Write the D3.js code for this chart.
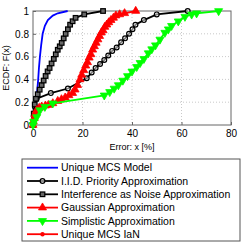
<!DOCTYPE html>
<html>
<head>
<meta charset="utf-8">
<script src="https://cdn.jsdelivr.net/npm/d3@7"></script>
<style>
body { margin: 0; background: #fff; }
svg { display: block; font-family: "Liberation Sans", Arial, sans-serif; }
</style>
</head>
<body>
<svg id="chart" width="249" height="243"></svg>
<script>
// error values (x, %) and ECDF values
var mcsX = [0, 0.5, 1, 1.7, 2.1, 2.4, 2.8, 3.3, 3.9, 4.8, 6, 8, 10, 14];
var mcsF = [0, 0.1, 0.2, 0.3, 0.4, 0.5, 0.6, 0.7, 0.8, 0.87, 0.92, 0.96, 0.98, 1];

var iidX = [0, 0.3, 0.8, 1.5, 7.2, 14.1, 21.7, 23.7, 25.3, 27.1, 28.8, 30.4, 32, 33.8, 35.6, 37.2, 38.8, 40.2, 41.4, 44.8, 50, 62.5];
var iidF = [0, 0.08, 0.16, 0.23, 0.28, 0.32, 0.41, 0.46, 0.5, 0.535, 0.57, 0.61, 0.65, 0.68, 0.725, 0.76, 0.8, 0.84, 0.88, 0.92, 0.97, 1];

var ianX = [0, 0.3, 0.7, 1.2, 1.9, 2.7, 3.5, 4.3, 5.1, 5.9, 6.7, 7.5, 8.4, 9.2, 10, 10.8, 11.6, 12.4, 13.2, 14.1, 15, 16, 17.2, 20.7, 28.3];
var ianF = [0, 0.1, 0.18, 0.23, 0.27, 0.31, 0.35, 0.39, 0.43, 0.47, 0.5, 0.54, 0.58, 0.62, 0.66, 0.69, 0.72, 0.76, 0.8, 0.84, 0.88, 0.91, 0.94, 0.97, 1];

var gaussX = [0, 0.1, 0.5, 0.8, 1.2, 1.5, 2.5, 3.5, 5, 6.2, 8, 10, 11.5, 13, 14.5, 16, 17, 18, 19, 19.7, 20.5, 21.3, 22, 22.7, 23.4, 24.1, 24.8, 25.5, 26.2, 26.9, 27.6, 28.3, 29, 29.8, 30.6, 31.5, 32.5, 33.5, 35, 37, 41.5];
var gaussF = [0, 0.03, 0.06, 0.09, 0.11, 0.13, 0.15, 0.16, 0.17, 0.175, 0.19, 0.21, 0.225, 0.24, 0.26, 0.28, 0.31, 0.35, 0.4, 0.44, 0.48, 0.52, 0.55, 0.59, 0.62, 0.66, 0.69, 0.72, 0.75, 0.78, 0.81, 0.83, 0.86, 0.88, 0.9, 0.92, 0.94, 0.96, 0.97, 0.98, 1];

var simpX = [0, 0.3, 1.5, 2.8, 4.8, 8, 28.8, 31, 32.8, 34.5, 36.3, 38.2, 40, 41.9, 43.3, 44.8, 46.6, 48, 49.5, 51.3, 53.3, 54.7, 56, 58.7, 61.4, 64.1, 66.1, 75];
var simpF = [0, 0.03, 0.07, 0.13, 0.16, 0.19, 0.26, 0.29, 0.32, 0.35, 0.39, 0.43, 0.47, 0.51, 0.545, 0.58, 0.63, 0.665, 0.7, 0.75, 0.81, 0.84, 0.87, 0.91, 0.95, 0.97, 0.98, 1];

// not visible in the plot, only in the legend
var uniqIanX = [];
var uniqIanF = [];

var xTicks = [0, 20, 40, 60, 80];
var yTicks = [0, 0.2, 0.4, 0.6, 0.8, 1];

var series = [
	{name: "Unique MCS Model", xs: mcsX, ys: mcsF, color: "#0000ff", marker: "none"},
	{name: "I.I.D. Priority Approximation", xs: iidX, ys: iidF, color: "#000000", marker: "circle"},
	{name: "Interference as Noise Approximation", xs: ianX, ys: ianF, color: "#000000", marker: "square"},
	{name: "Gaussian Approximation", xs: gaussX, ys: gaussF, color: "#ff0000", marker: "triUp"},
	{name: "Simplistic Approximation", xs: simpX, ys: simpF, color: "#00ff00", marker: "triDown"},
	{name: "Unique MCS IaN", xs: uniqIanX, ys: uniqIanF, color: "#ff0000", marker: "dot"}
];

var svg = d3.select("#chart");
var plotL = 33, plotR = 231, plotT = 11, plotB = 125;

var x = d3.scaleLinear().domain([0, 80]).range([plotL, plotR]);
var y = d3.scaleLinear().domain([0, 1]).range([plotB, plotT]);

// grid
var grid = svg.append("g");
grid.selectAll(".gx").data(xTicks.slice(1, -1)).enter().append("line")
	.attr("x1", function(d) { return x(d); }).attr("x2", function(d) { return x(d); })
	.attr("y1", plotT).attr("y2", plotB)
	.attr("stroke", "#bbb").attr("stroke-width", 0.8).attr("stroke-dasharray", "1,2");
grid.selectAll(".gy").data(yTicks.slice(1, -1)).enter().append("line")
	.attr("y1", function(d) { return y(d); }).attr("y2", function(d) { return y(d); })
	.attr("x1", plotL).attr("x2", plotR)
	.attr("stroke", "#bbb").attr("stroke-width", 0.8).attr("stroke-dasharray", "1,2");

// axes box
svg.append("rect").attr("x", plotL).attr("y", plotT)
	.attr("width", plotR - plotL).attr("height", plotB - plotT)
	.attr("fill", "none").attr("stroke", "#666").attr("stroke-width", 1);

var xax = svg.append("g").attr("transform", "translate(0," + plotB + ")")
	.call(d3.axisBottom(x).tickValues(xTicks).tickSize(-3).tickPadding(5).tickFormat(d3.format("d")));
var yax = svg.append("g").attr("transform", "translate(" + plotL + ",0)")
	.call(d3.axisLeft(y).tickValues(yTicks).tickSize(-3).tickPadding(4).tickFormat(function(d) { return d === 0 || d === 1 ? d : d3.format(".1f")(d); }));
[xax, yax].forEach(function(ax) {
	ax.select(".domain").remove();
	ax.selectAll(".tick line").attr("stroke", "#666");
	ax.selectAll("text").attr("font-size", "10px").attr("fill", "#000")
		.attr("font-family", "Liberation Sans, Arial, sans-serif");
});

svg.append("text").attr("x", (plotL + plotR) / 2).attr("y", 150)
	.attr("text-anchor", "middle").attr("font-size", "9px").text("Error: x [%]");
svg.append("text").attr("transform", "translate(8.5," + ((plotT + plotB) / 2) + ") rotate(-90)")
	.attr("text-anchor", "middle").attr("font-size", "9px").text("ECDF: F(x)");

function drawMarker(g, type, color, cx, cy) {
	if (type === "circle") {
		g.append("circle").attr("cx", cx).attr("cy", cy).attr("r", 2.4)
			.attr("fill", "#fff").attr("fill-opacity", 0.5).attr("stroke", color).attr("stroke-width", 1.2);
	} else if (type === "square") {
		g.append("rect").attr("x", cx - 2.3).attr("y", cy - 2.3).attr("width", 4.6).attr("height", 4.6)
			.attr("fill", "#666").attr("stroke", color).attr("stroke-width", 1.2);
	} else if (type === "triUp") {
		g.append("path").attr("d", d3.symbol(d3.symbolTriangle, 28)())
			.attr("transform", "translate(" + cx + "," + cy + ")")
			.attr("fill", color).attr("stroke", color).attr("stroke-width", 0.8);
	} else if (type === "triDown") {
		g.append("path").attr("d", d3.symbol(d3.symbolTriangle, 28)())
			.attr("transform", "translate(" + cx + "," + cy + ") rotate(180)")
			.attr("fill", color).attr("stroke", color).attr("stroke-width", 0.8);
	} else if (type === "dot") {
		g.append("circle").attr("cx", cx).attr("cy", cy).attr("r", 2.2).attr("fill", color);
	}
}

var line = d3.line().x(function(d) { return x(d[0]); }).y(function(d) { return y(d[1]); });

series.forEach(function(s) {
	var pts = s.xs.map(function(v, i) { return [v, s.ys[i]]; });
	var g = svg.append("g");
	if (pts.length === 0) return;
	g.append("path").datum(pts).attr("d", line)
		.attr("fill", "none").attr("stroke", s.color).attr("stroke-width", 1.8);
	pts.forEach(function(p) { drawMarker(g, s.marker, s.color, x(p[0]), y(p[1])); });
});

// legend
var lg = svg.append("g");
lg.append("rect").attr("x", 22).attr("y", 159).attr("width", 218).attr("height", 82)
	.attr("fill", "#fff").attr("stroke", "#555").attr("stroke-width", 1);
series.forEach(function(s, i) {
	var ly = 167.7 + i * 13.3;
	lg.append("line").attr("x1", 27).attr("x2", 58).attr("y1", ly).attr("y2", ly)
		.attr("stroke", s.color).attr("stroke-width", 1.8);
	drawMarker(lg, s.marker, s.color, 42.5, ly);
	lg.append("text").attr("x", 61).attr("y", ly + 3.6).attr("font-size", "10.5px").text(s.name);
});
</script>
</body>
</html>
